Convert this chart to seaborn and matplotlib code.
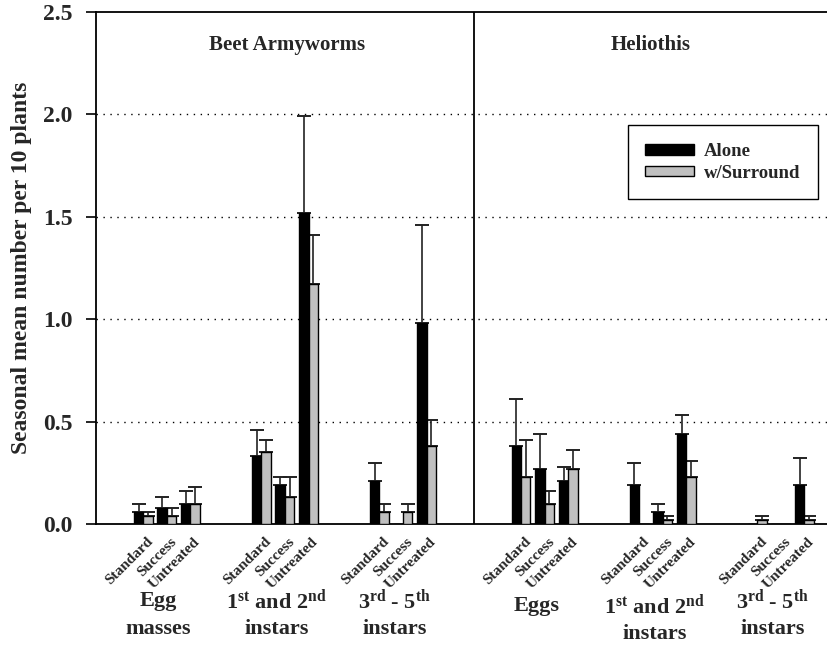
import numpy as np
import pandas as pd
import matplotlib
matplotlib.use("Agg")
import matplotlib.pyplot as plt
import matplotlib.transforms as mtransforms
from matplotlib.patches import Patch
import seaborn as sns

# ---------------- data ----------------
species = ["Beet Armyworms", "Heliothis"]
stages = ["Egg masses", "1st-2nd instars", "3rd-5th instars",
          "Eggs", "1st-2nd instars", "3rd-5th instars"]
treatments = ["Standard", "Success", "Untreated"]
series = ["Alone", "w/Surround"]

alone_mean = [0.06, 0.08, 0.10, 0.33, 0.19, 1.52, 0.21, 0.00, 0.98,
              0.38, 0.27, 0.21, 0.19, 0.06, 0.44, 0.00, 0.00, 0.19]
alone_upper = [0.10, 0.13, 0.16, 0.46, 0.23, 1.99, 0.30, np.nan, 1.46,
               0.61, 0.44, 0.28, 0.30, 0.10, 0.53, np.nan, np.nan, 0.32]
surround_mean = [0.04, 0.04, 0.10, 0.35, 0.13, 1.17, 0.06, 0.06, 0.38,
                 0.23, 0.10, 0.27, 0.00, 0.02, 0.23, 0.02, 0.00, 0.02]
surround_upper = [0.06, 0.08, 0.18, 0.41, 0.23, 1.41, 0.10, 0.10, 0.51,
                  0.41, 0.16, 0.36, np.nan, 0.04, 0.31, 0.04, np.nan, 0.04]

yticks = [0.0, 0.5, 1.0, 1.5, 2.0, 2.5]
ytick_labels = ["0.0", "0.5", "1.0", "1.5", "2.0", "2.5"]

# ---------------- layout helpers ----------------
positions = []
for g in range(len(stages)):
    sp = g // 3
    for t in range(len(treatments)):
        positions.append(g * 5 + t + sp)
positions = np.array(positions, dtype=float)

df = pd.DataFrame({
    "pos": np.concatenate([positions, positions]),
    "value": alone_mean + surround_mean,
    "series": [series[0]] * len(alone_mean) + [series[1]] * len(surround_mean),
})

sns.set_theme(style="white")
plt.rcParams["font.family"] = ["Liberation Serif", "DejaVu Serif"]
plt.rcParams["font.weight"] = "bold"
plt.rcParams["mathtext.fontset"] = "custom"
plt.rcParams["mathtext.rm"] = "Liberation Serif:bold"
plt.rcParams["mathtext.bf"] = "Liberation Serif:bold"
plt.rcParams["mathtext.it"] = "Liberation Serif:bold"

fig = plt.figure(figsize=(8.28, 6.64), dpi=100)
ax = fig.add_axes([96 / 828, 140 / 664, 1 - 96 / 828, (524 - 12) / 664])

sns.barplot(data=df, x="pos", y="value", hue="series", native_scale=True,
            palette={"Alone": "black", "w/Surround": "#C0C0C0"},
            edgecolor="black", linewidth=1.0, errorbar=None, legend=False,
            ax=ax, zorder=3)

# error bars (upper only)
for vals, ups, off in [(alone_mean, alone_upper, -0.2), (surround_mean, surround_upper, 0.2)]:
    vals = np.array(vals)
    ups = np.array(ups)
    m = ~np.isnan(ups)
    ax.errorbar(positions[m] + off, vals[m],
                yerr=[np.zeros(m.sum()), ups[m] - vals[m]],
                fmt="none", ecolor="#222222", elinewidth=1.2, capsize=4.8,
                capthick=1.4, zorder=2)

ax.set_xlim(-2, 29)
ax.set_ylim(0, 2.5)

# dotted gridlines
for yv in yticks[1:-1]:
    ax.axhline(yv, color="black", linestyle=(0, (1, 4)), linewidth=1.0, zorder=1)
ax.axvline(14, color="black", linewidth=1.3, zorder=4)

for s in ["left", "bottom", "top"]:
    ax.spines[s].set_visible(True)
    ax.spines[s].set_color("black")
    ax.spines[s].set_linewidth(1.3)
ax.spines["right"].set_visible(False)

ax.set_yticks(yticks)
ax.set_yticklabels(ytick_labels, fontsize=17, fontweight="bold")
ax.tick_params(axis="y", which="major", direction="out", length=7, width=1.2,
               color="black", left=True, pad=10)

ax.set_xticks(positions)
ax.set_xticklabels(treatments * len(stages), rotation=45, ha="right",
                   rotation_mode="anchor", fontsize=11, fontweight="bold")
ax.tick_params(axis="x", length=0, pad=8)
offset = mtransforms.ScaledTranslation(3 / 100, 0, fig.dpi_scale_trans)
for lab in ax.get_xticklabels():
    lab.set_transform(lab.get_transform() + offset)

ax.set_xlabel("")
ax.set_ylabel("Seasonal mean number per 10 plants", fontsize=17,
              fontweight="bold", labelpad=8)

# species titles
tr = mtransforms.blended_transform_factory(ax.transData, ax.transAxes)
ax.text(6.1, 0.936, species[0], transform=tr, ha="center", va="center",
        fontsize=15, fontweight="bold")
ax.text(21.5, 0.936, species[1], transform=tr, ha="center", va="center",
        fontsize=15, fontweight="bold")

# group labels
def yfrac(py):
    return (524 - py) / 512

group_lines = [
    ("Egg", "masses", 601, 629),
    (r"1$^{\mathrm{st}}$ and 2$^{\mathrm{nd}}$", "instars", 601, 629),
    (r"3$^{\mathrm{rd}}$ - 5$^{\mathrm{th}}$", "instars", 601, 629),
    ("Eggs", None, 606, None),
    (r"1$^{\mathrm{st}}$ and 2$^{\mathrm{nd}}$", "instars", 606, 634),
    (r"3$^{\mathrm{rd}}$ - 5$^{\mathrm{th}}$", "instars", 601, 629),
]
for g, (l1, l2, y1, y2) in enumerate(group_lines):
    cx = positions[g * 3 + 1] - 0.35
    ax.text(cx, yfrac(y1), l1, transform=tr, ha="center", va="center",
            fontsize=16, fontweight="bold", clip_on=False)
    if l2:
        ax.text(cx, yfrac(y2), l2, transform=tr, ha="center", va="center",
                fontsize=16, fontweight="bold", clip_on=False)

handles = [Patch(facecolor="black", edgecolor="black", label=series[0]),
           Patch(facecolor="#C0C0C0", edgecolor="black", label=series[1])]
leg = ax.legend(handles=handles, loc="upper right",
                bbox_to_anchor=(0.986, 0.779), fancybox=False, frameon=True,
                edgecolor="black", framealpha=1, borderpad=0.95,
                handlelength=2.6, handleheight=0.5, handletextpad=0.5,
                labelspacing=0.25, borderaxespad=0,
                prop={"family": "Liberation Serif", "weight": "bold", "size": 13.5})
leg.get_frame().set_linewidth(1.0)
leg.set_zorder(5)

fig.savefig("out.png", dpi=100)
